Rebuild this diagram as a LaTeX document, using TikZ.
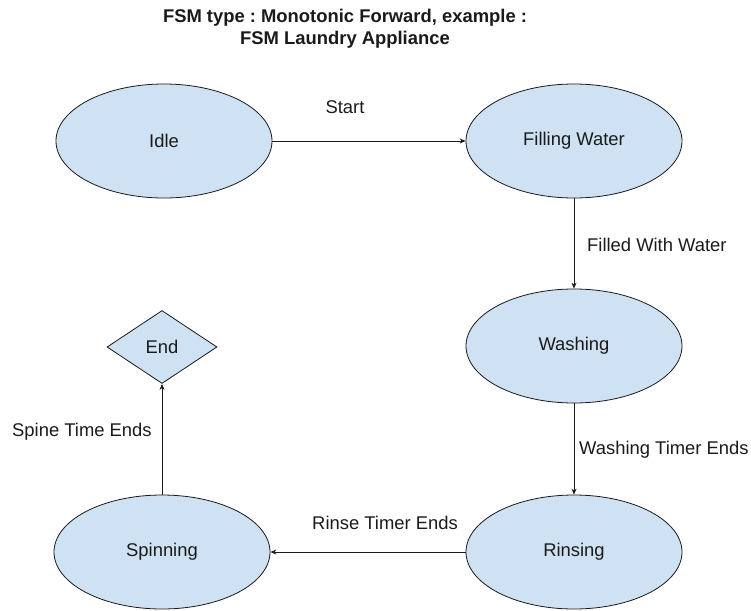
\documentclass[tikz,border=0pt]{standalone}
\usepackage{fontspec}
\setmainfont{Liberation Sans}
\usetikzlibrary{shapes.geometric,arrows.meta}
\definecolor{statefill}{HTML}{CFE2F3}
\definecolor{ink}{HTML}{1A1A1A}
\frenchspacing
\begin{document}
\begin{tikzpicture}[x=1pt,y=-1pt,
  every node/.style={font=\fontsize{18.4}{22}\selectfont, text=ink},
  state/.style={ellipse, draw=ink, line width=0.8pt, fill=statefill,
    minimum width=216pt, minimum height=114pt, inner sep=0pt},
  endstate/.style={diamond, draw=ink, line width=0.8pt, fill=statefill,
    minimum width=110pt, minimum height=73pt, inner sep=0pt},
  trans/.style={draw=ink, line width=0.8pt, -{Stealth[length=6pt,width=5pt]}},
  lbl/.style={inner sep=0pt}]
\useasboundingbox (0,0) rectangle (751,610);
\node[font=\bfseries\fontsize{18.4}{22}\selectfont, align=center, inner sep=0pt] (title) at (345,29)
  {FSM type : Monotonic Forward, example :\\FSM Laundry Appliance};
\node[state] (idle) at (164,141) {Idle};
\node[state] (fill) at (574,141) {Filling Water};
\node[state] (wash) at (574,346) {Washing};
\node[state] (rinse) at (574,552) {Rinsing};
\node[state] (spin) at (162,552) {Spinning};
\node[endstate] (end) at (162,347) {End};
\draw[trans] (idle.east) -- (fill.west);
\draw[trans] (fill.south) -- (wash.north);
\draw[trans] (wash.south) -- (rinse.north);
\draw[trans] (rinse.west) -- (spin.east);
\draw[trans] (spin.north) -- (end.south);
\node[lbl] (l1) at (345,107) {Start};
\node[lbl, anchor=west] (l2) at (587,245) {Filled With Water};
\node[lbl, anchor=west] (l3) at (579,450) {Washing Timer Ends};
\node[lbl] (l4) at (385,523) {Rinse Timer Ends};
\node[lbl, anchor=west] (l5) at (12,432) {Spine Time Ends};
\end{tikzpicture}
\end{document}
